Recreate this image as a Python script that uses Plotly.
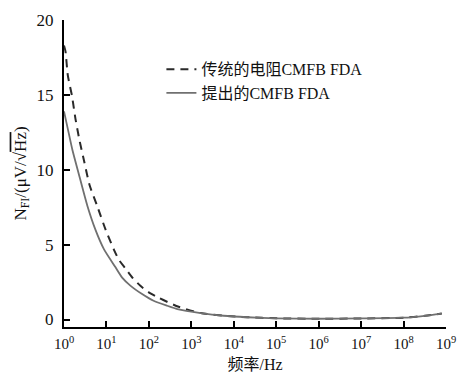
import plotly.graph_objects as go

# log10(frequency / Hz) sample points and noise values (uV/sqrt(Hz))
trad_logf = [0, 0.035, 0.09, 0.19, 0.27, 0.37, 0.48, 0.6, 0.78, 0.98, 1.17, 1.29, 1.45,
             1.61, 1.8, 1.99, 2.23, 2.7, 3.22, 3.76, 4.32, 5, 6, 7, 8, 8.5, 8.9]
trad_vals = [18.3, 17.9, 16.3, 14.9, 13.4, 11.9, 10.5, 9.0, 7.6, 6.0, 4.7, 4.0, 3.4,
             2.8, 2.25, 1.83, 1.45, 0.85, 0.43, 0.25, 0.15, 0.08, 0.05, 0.07, 0.12, 0.25, 0.4]

prop_logf = [0, 0.1, 0.2, 0.35, 0.55, 0.74, 0.94, 1.21, 1.37, 1.57, 1.84, 2.11, 2.43,
             2.67, 3.22, 3.76, 4.32, 5, 6, 7, 8, 8.5, 8.9]
prop_vals = [13.9, 12.6, 11.3, 9.7, 7.6, 6.0, 4.7, 3.5, 2.8, 2.25, 1.7, 1.25, 0.92,
             0.7, 0.43, 0.25, 0.15, 0.08, 0.05, 0.07, 0.12, 0.25, 0.4]

CJK = "<span style=\"font-family:'Noto Sans CJK SC'\">%s</span>"
series_names = [CJK % "传统的电阻" + "CMFB FDA", CJK % "提出的" + "CMFB FDA"]
x_title = CJK % "频率" + "/Hz"
x_tick_vals = [1, 10, 100, 1e3, 1e4, 1e5, 1e6, 1e7, 1e8, 1e9]
x_tick_text = ["10<sup>%d</sup>" % i for i in range(10)]
y_tick_vals = [0, 5, 10, 15, 20]

FONT = "Liberation Serif, Times New Roman, serif"

fig = go.Figure()
fig.add_trace(go.Scatter(
    x=[10 ** e for e in trad_logf], y=trad_vals, mode="lines", name=series_names[0],
    line=dict(color="#2a2a2a", width=2, dash="8px,6px", shape="spline", smoothing=0.6),
))
fig.add_trace(go.Scatter(
    x=[10 ** e for e in prop_logf], y=prop_vals, mode="lines", name=series_names[1],
    line=dict(color="#707070", width=1.8, shape="spline", smoothing=0.6),
))

fig.update_layout(
    width=459, height=375,
    margin=dict(l=64, r=13, t=20, b=48),
    paper_bgcolor="white", plot_bgcolor="white",
    font=dict(family=FONT, size=15, color="#111"),
    showlegend=True,
    legend=dict(x=0.255, y=0.895, xanchor="left", yanchor="top",
                bgcolor="rgba(0,0,0,0)", borderwidth=0,
                font=dict(family=FONT, size=16, color="#111"),
                tracegroupgap=0, itemwidth=30),
    xaxis=dict(
        type="log", range=[0, 9], automargin=False,
        tickvals=x_tick_vals, ticktext=x_tick_text,
        ticks="inside", ticklen=6, tickwidth=2, tickcolor="black",
        showline=True, linecolor="black", linewidth=2,
        showgrid=False, zeroline=False, ticklabelstandoff=2,
        tickfont=dict(family=FONT, size=15, color="#111"),
        title=dict(text=x_title, standoff=6,
                   font=dict(family=FONT, size=16, color="#111")),
    ),
    yaxis=dict(
        range=[-0.5, 20], automargin=False,
        tickvals=y_tick_vals,
        ticks="inside", ticklen=6, tickwidth=2, tickcolor="black",
        showline=True, linecolor="black", linewidth=2,
        showgrid=False, zeroline=False, ticklabelstandoff=5,
        tickfont=dict(family=FONT, size=17, color="#111"),
        title=dict(text="N<sub>FI</sub>/(μV/√<span style='text-decoration:overline'>Hz</span>)",
                   standoff=6,
                   font=dict(family=FONT, size=17, color="#111")),
    ),
)

fig.write_html("out.html")
